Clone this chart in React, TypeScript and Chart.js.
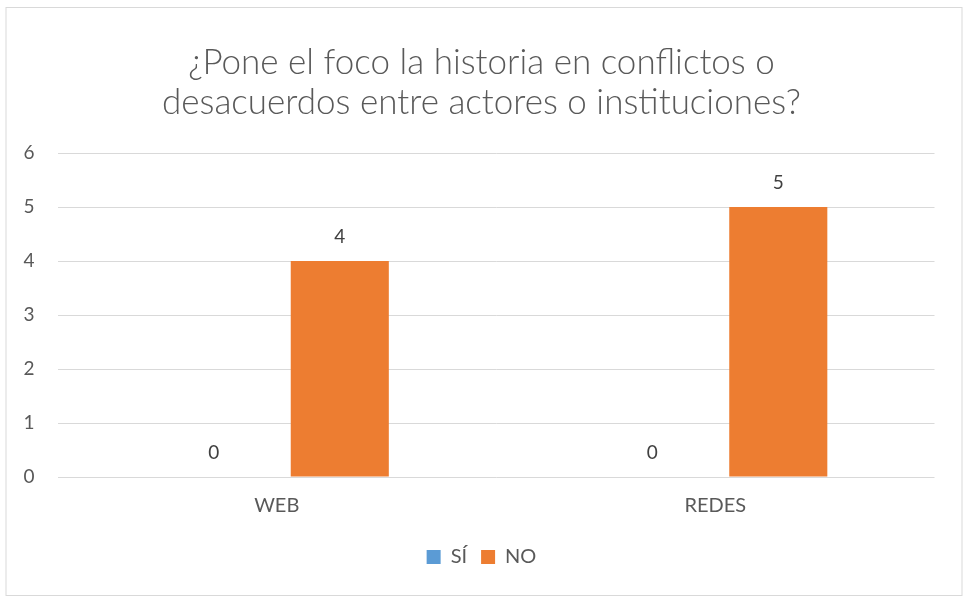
import React, { useEffect, useRef } from "react";
import { Chart, registerables } from "chart.js";

Chart.register(...registerables);

const titleLines = ["¿Pone el foco la historia en conflictos o", "desacuerdos entre actores o instituciones?"];
const categories = ["WEB", "REDES"];
const seriesNames = ["SÍ", "NO"];
const siValues = [0, 0];
const noValues = [4, 5];
const yTicks = [0, 1, 2, 3, 4, 5, 6];

const TEXT = "#595959";
const GRID = "#d9d9d9";
const FONT = "Lato, 'Open Sans', sans-serif";

const borderPlugin = {
  id: "outerBorder",
  beforeDraw(chart: any) {
    const ctx = chart.ctx;
    ctx.save();
    ctx.fillStyle = "#ffffff";
    ctx.fillRect(0, 0, chart.width, chart.height);
    ctx.strokeStyle = GRID;
    ctx.lineWidth = 1;
    ctx.strokeRect(6, 7.5, chart.width - 7, chart.height - 9);
    ctx.restore();
  },
};

const labelPlugin = {
  id: "valueLabels",
  afterDatasetsDraw(chart: any) {
    const ctx = chart.ctx;
    ctx.save();
    ctx.fillStyle = "#404040";
    ctx.font = `19px ${FONT}`;
    ctx.textAlign = "center";
    ctx.textBaseline = "alphabetic";
    chart.data.datasets.forEach((ds: any, i: number) => {
      const meta = chart.getDatasetMeta(i);
      meta.data.forEach((bar: any, j: number) => {
        ctx.fillText(String(ds.data[j]), bar.x, bar.y - 18);
      });
    });
    ctx.restore();
  },
};

export default function App() {
  const ref = useRef<HTMLCanvasElement | null>(null);
  useEffect(() => {
    document.body.style.margin = "0";
    const canvas = ref.current!;
    const chart = new Chart(canvas, {
      type: "bar",
      data: {
        labels: categories,
        datasets: [
          { label: seriesNames[0], data: siValues, backgroundColor: "#5B9BD5", yAxisID: "y" },
          { label: seriesNames[1], data: noValues, backgroundColor: "#ED7D31", yAxisID: "y" },
        ],
      },
      options: {
        responsive: false,
        animation: false,
        devicePixelRatio: 1,
        categoryPercentage: 0.575,
        barPercentage: 0.778,
        layout: { padding: { left: 0, right: 0, top: 0, bottom: 20 } },
        plugins: {
          title: {
            display: true,
            text: titleLines,
            color: TEXT,
            font: { family: FONT, size: 35, weight: "300", lineHeight: 40 / 35 },
            padding: { top: 43, bottom: 30 },
          },
          legend: {
            display: true,
            position: "bottom",
            labels: {
              color: TEXT,
              font: { family: FONT, size: 20 },
              boxWidth: 14,
              boxHeight: 14,
              padding: 14,
            },
          },
          tooltip: { enabled: false },
        },
        scales: {
          x: {
            afterFit(scale: any) {
              scale.height = 56;
            },
            grid: { display: false, drawTicks: false },
            border: { display: false },
            ticks: { color: TEXT, font: { family: FONT, size: 20 }, padding: 17 },
          },
          y: {
            min: 0,
            max: 6,
            afterFit(scale: any) {
              scale.width = 57.5;
            },
            afterBuildTicks(scale: any) {
              scale.ticks = yTicks.map((v) => ({ value: v }));
            },
            grid: { color: GRID, drawTicks: false, lineWidth: 1 },
            border: { display: false },
            ticks: { color: TEXT, font: { family: FONT, size: 19 }, padding: 23 },
          },
          yRight: {
            position: "right",
            display: true,
            afterFit(scale: any) {
              scale.width = 28.5;
            },
            grid: { display: false, drawTicks: false },
            border: { display: false },
            ticks: { display: false },
          },
        },
      },
      plugins: [borderPlugin, labelPlugin],
    } as any);
    return () => chart.destroy();
  }, []);
  return <canvas ref={ref} width={963} height={597} style={{ display: "block" }} />;
}
